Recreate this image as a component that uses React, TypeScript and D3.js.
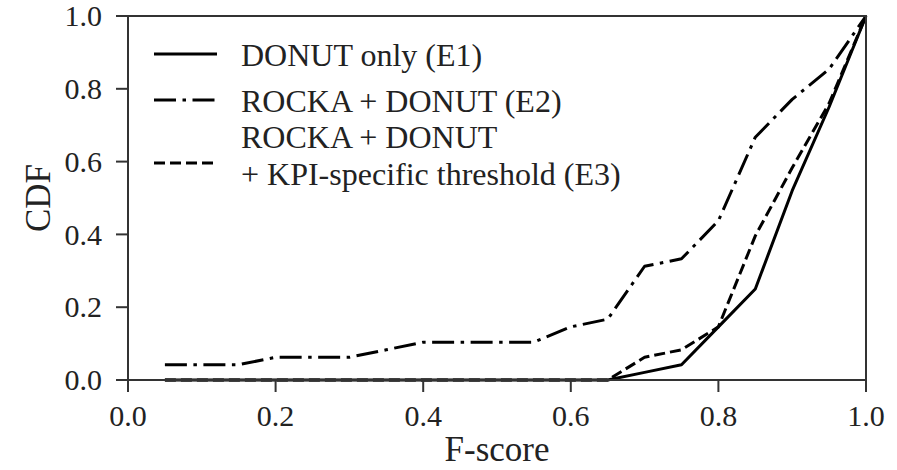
import React from "react";
import * as d3 from "d3";

const fScores = [0.05, 0.1, 0.15, 0.2, 0.25, 0.3, 0.35, 0.4, 0.45, 0.5, 0.55, 0.6, 0.65, 0.7, 0.75, 0.8, 0.85, 0.9, 0.95, 1.0];
const cdfE1 = [0, 0, 0, 0, 0, 0, 0, 0, 0, 0, 0, 0, 0, 0.021, 0.042, 0.146, 0.25, 0.52, 0.75, 1.0];
const cdfE2 = [0.042, 0.042, 0.042, 0.0625, 0.0625, 0.0625, 0.083, 0.104, 0.104, 0.104, 0.104, 0.146, 0.167, 0.3125, 0.333, 0.4375, 0.667, 0.771, 0.854, 1.0];
const cdfE3 = [0, 0, 0, 0, 0, 0, 0, 0, 0, 0, 0, 0, 0, 0.0625, 0.083, 0.146, 0.396, 0.583, 0.76, 1.0];
const xTicks = [0, 0.2, 0.4, 0.6, 0.8, 1.0];
const yTicks = [0, 0.2, 0.4, 0.6, 0.8, 1.0];
const seriesNames = ["DONUT only (E1)", "ROCKA + DONUT (E2)", "ROCKA + DONUT", "+ KPI-specific threshold (E3)"];

const W = 897;
const H = 470;
const FONT = '"Liberation Serif", "Times New Roman", "DejaVu Serif", "Noto Serif", serif';

export default function App() {
  const x = d3.scaleLinear().domain([0, 1]).range([128, 866]);
  const y = d3.scaleLinear().domain([0, 1]).range([380, 16]);
  const line = d3
    .line<[number, number]>()
    .x((d) => x(d[0]))
    .y((d) => y(d[1]));
  const mk = (vals: number[]) => fScores.map((f, i) => [f, vals[i]] as [number, number]);

  const lw = 3;
  const dashE2 = "22,6.5,3.5,6.5";
  const dashE3 = "11,5";
  const spine = "#333";
  const ts: React.CSSProperties = { fontFamily: FONT };

  return (
    <svg width={W} height={H} style={{ position: "absolute", left: 0, top: 0, background: "#fff", fontFamily: FONT }}>
      <rect x={0} y={0} width={W} height={H} fill="#fff" />
      <path d={line(mk(cdfE1)) || ""} fill="none" stroke="#000" strokeWidth={lw} strokeLinejoin="round" />
      <path d={line(mk(cdfE2)) || ""} fill="none" stroke="#000" strokeWidth={lw} strokeDasharray={dashE2} strokeLinejoin="round" />
      <path d={line(mk(cdfE3)) || ""} fill="none" stroke="#000" strokeWidth={lw} strokeDasharray={dashE3} strokeLinejoin="round" />

      <rect x={x(0)} y={y(1)} width={x(1) - x(0)} height={y(0) - y(1)} fill="none" stroke={spine} strokeWidth={2} />

      {xTicks.map((t) => (
        <g key={"x" + t}>
          <line x1={x(t)} x2={x(t)} y1={y(0)} y2={y(0) + 12} stroke={spine} strokeWidth={2} />
          <text x={x(t)} y={426} textAnchor="middle" fontSize={30} fill="#222" style={ts}>
            {t.toFixed(1)}
          </text>
        </g>
      ))}
      {yTicks.map((t) => (
        <g key={"y" + t}>
          <line x1={x(0) - 12} x2={x(0)} y1={y(t)} y2={y(t)} stroke={spine} strokeWidth={2} />
          <text x={102} y={y(t)} dy="0.34em" textAnchor="end" fontSize={30} fill="#222" style={ts}>
            {t.toFixed(1)}
          </text>
        </g>
      ))}

      <text x={(x(0) + x(1)) / 2} y={461} textAnchor="middle" fontSize={35} fill="#222" style={ts}>
        F-score
      </text>
      <text transform={`translate(50, ${(y(0) + y(1)) / 2}) rotate(-90)`} textAnchor="middle" fontSize={35} fill="#222" style={ts}>
        CDF
      </text>

      <g>
        <line x1={154} x2={217} y1={54} y2={54} stroke="#000" strokeWidth={lw} />
        <text x={241} y={66} fontSize={32} fill="#222" style={ts}>{seriesNames[0]}</text>
        <line x1={154} x2={217} y1={100} y2={100} stroke="#000" strokeWidth={lw} strokeDasharray={dashE2} />
        <text x={241} y={112} fontSize={32} fill="#222" style={ts}>{seriesNames[1]}</text>
        <line x1={154} x2={217} y1={163} y2={163} stroke="#000" strokeWidth={lw} strokeDasharray={dashE3} />
        <text x={241} y={148} fontSize={32} fill="#222" style={ts}>{seriesNames[2]}</text>
        <text x={241} y={185} fontSize={32} fill="#222" style={ts}>{seriesNames[3]}</text>
      </g>
    </svg>
  );
}
